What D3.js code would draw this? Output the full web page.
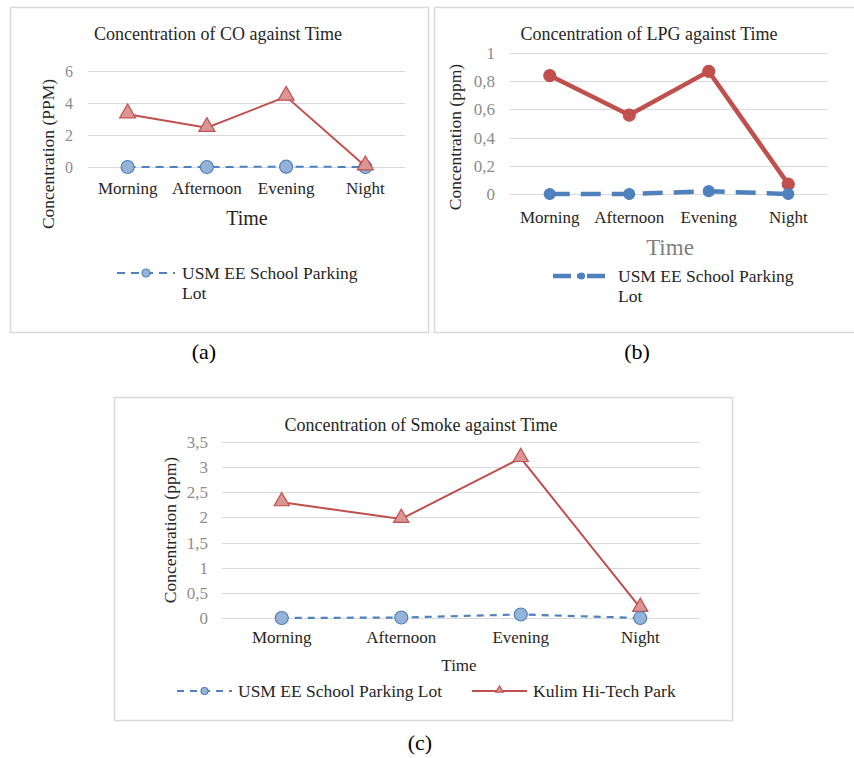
<!DOCTYPE html>
<html lang="en">
<head>
<meta charset="UTF-8">
<title>Concentration against Time</title>
<script src="https://d3js.org/d3.v7.min.js"></script>
<style>
  body { margin: 0; background: #fff; }
  svg { display: block; }
  svg text { font-family: "Liberation Serif", "Times New Roman", serif; }
</style>
</head>
<body>
<svg width="854" height="758"></svg>
<script>
// data
var times = ["Morning", "Afternoon", "Evening", "Night"];
var seriesNames = ["USM EE School Parking Lot", "Kulim Hi-Tech Park"];

var coUsm = [0, 0, 0.02, 0];
var coKulim = [3.3, 2.45, 4.4, 0.05];
var lpgUsm = [0, 0, 0.02, 0];
var lpgKulim = [0.84, 0.56, 0.87, 0.07];
var smokeUsm = [0, 0.01, 0.07, 0];
var smokeKulim = [2.3, 1.97, 3.18, 0.2];

var coTicks = [0, 2, 4, 6];
var lpgTicks = [0, 0.2, 0.4, 0.6, 0.8, 1];
var smokeTicks = [0, 0.5, 1, 1.5, 2, 2.5, 3, 3.5];

var RED = "#c0504d", BLUE = "#4f81bd";
var SERIF = '"Liberation Serif", "Times New Roman", serif';
var comma = d3.formatLocale({ decimal: ",", thousands: ".", grouping: [3], currency: ["", ""] }).format("~g");
var svg = d3.select("svg");

function drawPanel(p) {
  var g = svg.append("g");
  g.append("rect")
    .attr("x", p.box[0] + 0.5).attr("y", p.box[1] + 0.5)
    .attr("width", p.box[2]).attr("height", p.box[3])
    .attr("fill", "#fff").attr("stroke", "#d9d9d9").attr("stroke-width", 1.5);

  var x = d3.scaleBand().domain(times).range([p.left, p.right]);
  var y = d3.scaleLinear().domain([0, d3.max(p.ticks)]).range([p.bottom, p.top]);
  var cx = function (i) { return x(times[i]) + x.bandwidth() / 2; };

  // gridlines
  g.append("g").selectAll("line").data(p.ticks).join("line")
    .attr("x1", p.left).attr("x2", p.right)
    .attr("y1", function (d) { return Math.round(y(d)) + 0.5; })
    .attr("y2", function (d) { return Math.round(y(d)) + 0.5; })
    .attr("stroke", "#d9d9d9").attr("stroke-width", 1.2);

  // y tick labels
  var ya = g.append("g").attr("transform", "translate(" + p.tickX + ",0)")
    .call(d3.axisLeft(y).tickValues(p.ticks).tickFormat(comma).tickSize(0).tickPadding(0));
  ya.select(".domain").remove();
  ya.selectAll("text").attr("fill", "#8c8c8c").style("font-size", p.tickSize + "px");

  // category labels
  var xa = g.append("g").attr("transform", "translate(0," + p.catY + ")")
    .call(d3.axisBottom(x).tickSize(0).tickPadding(0));
  xa.select(".domain").remove();
  xa.selectAll("text").attr("fill", "#262626").attr("dy", 0).style("font-size", "17px");

  g.append("text").attr("x", p.title[0]).attr("y", p.title[1]).attr("text-anchor", "middle")
    .attr("fill", "#262626").style("font-size", "18px").text(p.titleText);
  g.append("text").attr("x", p.xTitle[0]).attr("y", p.xTitle[1]).attr("text-anchor", "middle")
    .attr("fill", p.xTitle[3]).style("font-size", p.xTitle[2] + "px").text("Time");
  g.append("text").attr("transform", "translate(" + p.yTitle[0] + "," + p.yTitle[1] + ") rotate(-90)")
    .attr("text-anchor", "middle").attr("dy", "0.35em")
    .attr("fill", "#262626").style("font-size", "17.5px").text(p.yTitleText);

  var line = d3.line().x(function (d, i) { return cx(i); }).y(function (d) { return y(d); });

  p.series.forEach(function (s) {
    g.append("path").datum(s.values).attr("d", line)
      .attr("fill", "none").attr("stroke", s.color).attr("stroke-width", s.width)
      .attr("stroke-dasharray", s.dash || null);
    drawMarkers(g, s, s.values.map(function (v, i) { return [cx(i), y(v)]; }), s.size);
  });

  // legend
  p.legend.forEach(function (l) {
    var s = l.s;
    g.append("line").attr("x1", l.x1).attr("x2", l.x2).attr("y1", l.y).attr("y2", l.y)
      .attr("stroke", s.color).attr("stroke-width", s.legendWidth || s.width)
      .attr("stroke-dasharray", s.legendDash || s.dash || null);
    drawMarkers(g, s, [[(l.x1 + l.x2) / 2, l.y]], s.legendSize);
    g.append("text").attr("x", l.tx).attr("y", l.y + 6).attr("fill", "#262626")
      .style("font-size", "17.5px")
      .selectAll("tspan").data(l.lines).join("tspan")
      .attr("x", l.tx).attr("dy", function (d, i) { return i ? 20 : 0; })
      .text(function (d) { return d; });
  });

  g.append("text").attr("x", p.caption[0]).attr("y", p.caption[1]).attr("text-anchor", "middle")
    .attr("fill", "#000").style("font-size", "22px").text(p.captionText);
}

function drawMarkers(g, s, pts, size) {
  if (s.marker === "triangle") {
    g.append("g").selectAll("path").data(pts).join("path")
      .attr("transform", function (d) { return "translate(" + d[0] + "," + (d[1] - 1) + ")"; })
      .attr("d", d3.symbol(d3.symbolTriangle, size))
      .attr("fill", s.fill).attr("stroke", s.color).attr("stroke-width", 1.2);
  } else {
    g.append("g").selectAll("circle").data(pts).join("circle")
      .attr("cx", function (d) { return d[0]; }).attr("cy", function (d) { return d[1]; })
      .attr("r", size).attr("fill", s.fill).attr("stroke", s.color).attr("stroke-width", 1.2);
  }
}

// (a) CO
var coUsmS = { values: coUsm, color: BLUE, fill: "#95b3d7", width: 2, dash: "8,6", marker: "circle", size: 6.5, legendSize: 4 };
var coKulimS = { values: coKulim, color: RED, fill: "#d99694", width: 2, marker: "triangle", size: 110 };
drawPanel({
  box: [10, 7, 418, 325], left: 88, right: 405, top: 71, bottom: 167, ticks: coTicks,
  tickX: 73, tickSize: 16, catY: 194,
  title: [218, 40], titleText: "Concentration of CO against Time",
  xTitle: [247, 225, 20, "#262626"], yTitle: [48, 154], yTitleText: "Concentration (PPM)",
  series: [coUsmS, coKulimS],
  legend: [{ s: coUsmS, x1: 117, x2: 175, y: 273, tx: 182, lines: ["USM EE School Parking", "Lot"] }],
  caption: [204, 359], captionText: "(a)"
});

// (b) LPG
var lpgUsmS = { values: lpgUsm, color: BLUE, fill: BLUE, width: 4.5, dash: "20,11", marker: "circle", size: 5.5,
  legendDash: "18,6,4,6", legendSize: 3 };
var lpgKulimS = { values: lpgKulim, color: RED, fill: RED, width: 4.5, marker: "circle", size: 6 };
drawPanel({
  box: [434, 7, 440, 325], left: 510, right: 828, top: 53, bottom: 194, ticks: lpgTicks,
  tickX: 495, tickSize: 17, catY: 223,
  title: [649, 40], titleText: "Concentration of LPG against Time",
  xTitle: [670, 255, 23, "#7f7f7f"], yTitle: [455, 137], yTitleText: "Concentration (ppm)",
  series: [lpgKulimS, lpgUsmS],
  legend: [{ s: lpgUsmS, x1: 553, x2: 610, y: 276, tx: 618, lines: ["USM EE School Parking", "Lot"] }],
  caption: [637, 359], captionText: "(b)"
});

// (c) Smoke
var smUsmS = { values: smokeUsm, color: BLUE, fill: "#95b3d7", width: 2.2, dash: "7,6", marker: "circle", size: 6.5, legendSize: 3.5 };
var smKulimS = { values: smokeKulim, color: RED, fill: "#d99694", width: 2, marker: "triangle", size: 100, legendSize: 22 };
drawPanel({
  box: [114, 397, 618, 323], left: 222, right: 700, top: 442, bottom: 618, ticks: smokeTicks,
  tickX: 208, tickSize: 17, catY: 643,
  title: [421, 431], titleText: "Concentration of Smoke against Time",
  xTitle: [459, 671, 17, "#262626"], yTitle: [170, 530], yTitleText: "Concentration (ppm)",
  series: [smKulimS, smUsmS],
  legend: [
    { s: smUsmS, x1: 177, x2: 232, y: 691, tx: 238, lines: [seriesNames[0]] },
    { s: smKulimS, x1: 472, x2: 527, y: 691, tx: 533, lines: [seriesNames[1]] }
  ],
  caption: [420, 750], captionText: "(c)"
});

// the axis generator puts sans-serif on its groups; force the serif face everywhere
svg.selectAll("g").attr("font-family", null).attr("font-size", null);
svg.selectAll("text").style("font-family", SERIF);
</script>
</body>
</html>
